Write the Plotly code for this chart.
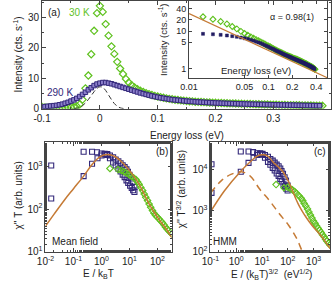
import plotly.graph_objects as go

# ---------------- data: panel (a) ----------------
energy = [-0.100, -0.095, -0.090, -0.085, -0.080, -0.075, -0.070, -0.065, -0.060, -0.055,
          -0.050, -0.045, -0.040, -0.035, -0.030, -0.025, -0.020, -0.015, -0.010, -0.005,
          0.000, 0.005, 0.010, 0.015, 0.020, 0.025, 0.030, 0.035, 0.040, 0.045,
          0.050, 0.055, 0.060, 0.065, 0.070, 0.075, 0.080, 0.085, 0.090, 0.095,
          0.100, 0.105, 0.110, 0.115, 0.120, 0.125, 0.130, 0.135, 0.140, 0.145,
          0.150, 0.155, 0.160, 0.165, 0.170, 0.175, 0.180, 0.185, 0.190, 0.195,
          0.200, 0.205, 0.210, 0.215, 0.220, 0.225, 0.230, 0.235, 0.240, 0.245,
          0.250, 0.255, 0.260, 0.265, 0.270, 0.275, 0.280, 0.285, 0.290, 0.295,
          0.300, 0.305, 0.310, 0.315, 0.320, 0.325, 0.330, 0.335, 0.340, 0.345,
          0.350, 0.355, 0.360, 0.365, 0.370, 0.375, 0.380, 0.385]

int_30K = [0.6, 0.4, 0.3, 0.3, 0.3, 0.3, 0.3, 0.3, 0.4, 0.4,
           0.5, 0.6, 0.8, 1.4, 3.0, 6.7, 10.9, 17.9, 25.6, 31.4,
           33.8, 31.8, 27.8, 24.0, 20.5, 18.0, 15.4, 13.2, 11.4, 9.8,
           8.6, 7.7, 7.0, 6.4, 5.9, 5.5, 5.1, 4.8, 4.5, 4.2,
           4.0, 3.8, 3.6, 3.4, 3.25, 3.1, 2.95, 2.85, 2.75, 2.65,
           2.55, 2.45, 2.4, 2.3, 2.25, 2.2, 2.15, 2.1, 2.05, 2.0,
           1.95, 1.9, 1.87, 1.84, 1.8, 1.77, 1.74, 1.7, 1.67, 1.64,
           1.6, 1.57, 1.54, 1.51, 1.48, 1.45, 1.42, 1.4, 1.37, 1.34,
           1.32, 1.3, 1.27, 1.25, 1.22, 1.2, 1.18, 1.16, 1.14, 1.12,
           1.1, 1.08, 1.06, 1.04, 1.02, 1.0, 0.98, 0.96]

int_290K = [0.5, 0.7, 0.8, 0.9, 1.0, 1.1, 1.3, 1.5, 1.8, 2.1,
            2.5, 2.9, 3.4, 4.0, 4.7, 5.4, 6.2, 6.9, 7.6, 8.1,
            8.4, 8.6, 8.6, 8.4, 8.2, 7.9, 7.6, 7.3, 7.0, 6.7,
            6.4, 6.1, 5.8, 5.5, 5.2, 4.95, 4.7, 4.45, 4.2, 4.0,
            3.8, 3.6, 3.45, 3.3, 3.15, 3.0, 2.9, 2.8, 2.7, 2.6,
            2.5, 2.42, 2.35, 2.28, 2.22, 2.16, 2.1, 2.05, 2.0, 1.95,
            1.9, 1.86, 1.82, 1.78, 1.74, 1.71, 1.68, 1.65, 1.62, 1.59,
            1.56, 1.53, 1.5, 1.47, 1.45, 1.42, 1.4, 1.37, 1.35, 1.33,
            1.3, 1.28, 1.26, 1.24, 1.22, 1.2, 1.18, 1.16, 1.14, 1.12,
            1.1, 1.08, 1.06, 1.04, 1.02, 1.0, 0.98]

res_E = [-0.045, -0.040, -0.035, -0.030, -0.025, -0.020, -0.015, -0.010, -0.005, 0.000,
         0.005, 0.010, 0.015, 0.020, 0.025, 0.030, 0.035, 0.040, 0.045]
res_I = [0.05, 0.15, 0.4, 1.0, 1.9, 3.0, 4.3, 5.6, 6.7, 7.2,
         7.0, 6.0, 4.5, 3.0, 1.7, 0.8, 0.3, 0.1, 0.03]

# inset power-law fit (alpha = 0.98)
fit_E = [0.01, 0.55]
fit_I = [29.0, 0.57]
inset_min_E = 0.015

# ---------------- data: panel (b) ----------------
b290_up_x = [0.016, 0.23, 0.46, 0.69, 1.0, 1.3, 1.6, 2.0, 2.6, 3.2, 4.0, 4.8, 5.7, 6.7, 7.8, 8.8, 10, 11.5, 13, 15]
b290_up_y = [1050, 2200, 2200, 2130, 2000, 1980, 1930, 1800, 1630, 1450, 1320, 1180, 1060, 960, 850, 740, 630, 520, 430, 330]
b290_lo_x = [0.016, 0.23, 0.46, 0.72, 1.0, 1.3, 1.6, 2.0, 2.6, 3.2, 4.0, 4.8, 5.7, 6.7, 7.8, 9, 10.5, 12, 13.5, 15]
b290_lo_y = [176, 590, 1150, 1550, 1800, 1900, 1850, 1550, 1230, 1050, 880, 760, 640, 560, 470, 410, 350, 310, 275, 250]
b30_x = [2.0, 3.9, 5.1, 6.3, 7.7, 9.5, 11.5, 14, 17, 19.5, 22, 25.5, 29.5, 33.5, 38, 44, 50, 57, 66, 75, 85, 98, 112, 128, 148, 170, 192, 220, 250, 290, 330]
b30_y = [890, 840, 800, 750, 700, 640, 590, 540, 490, 430, 380, 320, 270, 225, 188, 158, 131, 110, 92, 80, 71, 65, 59, 53, 48, 43, 38, 34, 31, 28, 26]
b_mf_x = [0.01, 0.02, 0.05, 0.1, 0.23, 0.46, 0.8, 1.2, 1.6, 2.2, 3.0, 4.5, 6.5, 10, 15, 22, 30, 40, 55, 75, 100, 140, 200, 330]
b_mf_y = [40, 75, 170, 300, 590, 1100, 1600, 1850, 1900, 1850, 1700, 1400, 1100, 800, 560, 380, 260, 175, 118, 85, 64, 47, 35, 21]

# ---------------- data: panel (c) ----------------
c290_up_x = [0.11, 1.5, 3.0, 4.5, 6.5, 8.5, 10.4, 13, 17, 21, 26, 31, 37, 44, 51, 57, 65, 75, 85, 98]
c290_up_y = [13400, 27500, 27500, 26600, 25000, 24700, 24100, 22500, 20400, 18100, 16500, 14700, 13200, 12000, 10600, 9250, 7900, 6500, 5400, 4100]
c290_lo_x = [0.11, 1.5, 3.0, 4.7, 6.5, 8.5, 10.4, 13, 17, 21, 26, 31, 37, 44, 51, 58, 68, 78, 88, 98]
c290_lo_y = [2700, 8800, 14500, 19400, 22500, 23700, 23100, 19400, 15400, 13100, 11000, 9500, 8000, 7000, 5900, 5100, 4400, 3900, 3400, 3100]
c30_x = [35, 71, 100, 125, 150, 185, 220, 270, 330, 380, 430, 500, 580, 660, 750, 860, 980, 1130, 1300, 1500, 1700, 1950, 2200, 2550, 2900, 3300, 3800, 4300]
c30_y = [4300, 3600, 3700, 3450, 3200, 2900, 2600, 2300, 2000, 1750, 1500, 1300, 1100, 930, 780, 660, 560, 490, 420, 370, 330, 295, 260, 230, 200, 180, 160, 145]
c_hmm_x = [0.1, 0.35, 1.5, 3.5, 6.0, 8.2, 12, 18, 26, 40, 62, 100, 145, 200, 260, 350, 460, 700, 1070, 1700, 2500, 3400, 4400]
c_hmm_y = [930, 3040, 9100, 15500, 20500, 22600, 22800, 20500, 15500, 12000, 9100, 5500, 3300, 2000, 1400, 1000, 760, 520, 370, 270, 200, 150, 120]
c_dash_x = [0.1, 0.26, 0.62, 1.56, 3.5, 8.2, 19.4, 46, 107, 220, 340, 420]
c_dash_y = [2640, 5300, 7600, 8800, 6900, 3300, 1760, 850, 440, 210, 112, 85]

# ---------------- styling ----------------
W, H = 335, 291
GREEN = '#5fc21f'
PURP_EDGE = '#33287a'
PURP_FILL = '#8d80cc'
NAVY = '#221d62'
ORANGE = '#c57a35'
AXC = '#444444'
FONT = 'Liberation Sans, Arial, sans-serif'


def px_x(p):
    return p / W


def px_y(p):
    return 1 - p / H


def axis(domain, rng, typ='linear', **kw):
    d = dict(domain=domain, range=rng, type=typ, showline=True, linecolor=AXC, linewidth=1,
             mirror='allticks', ticks='inside', ticklen=4, tickcolor=AXC, tickwidth=1,
             showgrid=False, zeroline=False, tickfont=dict(size=10, color='#222', family=FONT),
             fixedrange=True)
    d.update(kw)
    return d


fig = go.Figure()

# panel (a) main
fig.add_trace(go.Scatter(x=energy, y=int_30K, mode='markers', xaxis='x', yaxis='y',
                         marker=dict(symbol='diamond-open', size=5.5, color=GREEN, line=dict(width=1.2, color=GREEN)),
                         showlegend=False))
fig.add_trace(go.Scatter(x=energy[:len(int_290K)], y=int_290K, mode='markers', xaxis='x', yaxis='y',
                         marker=dict(symbol='square', size=4.5, color=PURP_FILL, line=dict(width=1, color=PURP_EDGE)),
                         showlegend=False))
fig.add_trace(go.Scatter(x=res_E, y=res_I, mode='lines', xaxis='x', yaxis='y', line_shape='spline',
                         line=dict(color='#333333', width=1, dash='5px,3px'), showlegend=False))

# inset
ins30_x = [e for e in energy if e >= inset_min_E]
ins30_y = [v for e, v in zip(energy, int_30K) if e >= inset_min_E]
ins290_x = [e for e in energy[:len(int_290K)] if e >= inset_min_E]
ins290_y = [v for e, v in zip(energy, int_290K) if e >= inset_min_E]
fig.add_trace(go.Scatter(x=ins30_x, y=ins30_y, mode='markers', xaxis='x2', yaxis='y2',
                         marker=dict(symbol='diamond-open', size=4.5, color=GREEN, line=dict(width=1.1, color=GREEN)),
                         showlegend=False))
fig.add_trace(go.Scatter(x=ins290_x, y=ins290_y, mode='markers', xaxis='x2', yaxis='y2',
                         marker=dict(symbol='square', size=3, color=NAVY, line=dict(width=0.5, color=NAVY)),
                         showlegend=False))
fig.add_trace(go.Scatter(x=fit_E, y=fit_I, mode='lines', xaxis='x2', yaxis='y2',
                         line=dict(color=ORANGE, width=1.3), showlegend=False))

# panel (b)
for xs, ys in ((b290_up_x, b290_up_y), (b290_lo_x, b290_lo_y)):
    fig.add_trace(go.Scatter(x=xs, y=ys, mode='markers', xaxis='x3', yaxis='y3',
                             marker=dict(symbol='square-open', size=5, color=PURP_EDGE, line=dict(width=1.1, color=PURP_EDGE)),
                             showlegend=False))
fig.add_trace(go.Scatter(x=b30_x, y=b30_y, mode='markers', xaxis='x3', yaxis='y3',
                         marker=dict(symbol='diamond-open', size=5, color=GREEN, line=dict(width=1.1, color=GREEN)),
                         showlegend=False))
fig.add_trace(go.Scatter(x=b_mf_x, y=b_mf_y, mode='lines', xaxis='x3', yaxis='y3', line_shape='spline',
                         line=dict(color=ORANGE, width=1.5), showlegend=False))

# panel (c)
for xs, ys in ((c290_up_x, c290_up_y), (c290_lo_x, c290_lo_y)):
    fig.add_trace(go.Scatter(x=xs, y=ys, mode='markers', xaxis='x4', yaxis='y4',
                             marker=dict(symbol='square-open', size=5, color=PURP_EDGE, line=dict(width=1.1, color=PURP_EDGE)),
                             showlegend=False))
fig.add_trace(go.Scatter(x=c30_x, y=c30_y, mode='markers', xaxis='x4', yaxis='y4',
                         marker=dict(symbol='diamond-open', size=5, color=GREEN, line=dict(width=1.1, color=GREEN)),
                         showlegend=False))
fig.add_trace(go.Scatter(x=c_hmm_x, y=c_hmm_y, mode='lines', xaxis='x4', yaxis='y4', line_shape='spline',
                         line=dict(color=ORANGE, width=1.5), showlegend=False))
fig.add_trace(go.Scatter(x=c_dash_x, y=c_dash_y, mode='lines', xaxis='x4', yaxis='y4', line_shape='spline',
                         line=dict(color=ORANGE, width=1.5, dash='7px,5px'), showlegend=False))

sup = lambda e: '10<sup>%s</sup>' % e

layout = dict(
    width=W, height=H, margin=dict(l=0, r=0, t=0, b=0),
    paper_bgcolor='white', plot_bgcolor='rgba(0,0,0,0)',
    font=dict(family=FONT, size=10, color='#222'),
    hovermode=False,
    xaxis=axis([px_x(34), px_x(331)], [-0.1, 0.4], anchor='y',
               tickvals=[-0.1, 0, 0.1, 0.2, 0.3, 0.4], ticktext=['-0.1', '0', '0.1', '0.2', '0.3', '0.4'],
               minor=dict(ticks='inside', ticklen=2, tickcolor=AXC, dtick=0.05)),
    yaxis=axis([px_y(111), px_y(1)], [0, 35.4], anchor='x',
               tickvals=[0, 10, 20, 30], ticktext=['0', '10', '20', '30'],
               minor=dict(ticks='inside', ticklen=2, tickcolor=AXC, dtick=5)),
    xaxis2=axis([px_x(185), px_x(327)], [-2, -0.26], 'log', anchor='y2',
                tickvals=[0.01, 0.05, 0.1, 0.2, 0.4], ticktext=['0.01', '0.05', '0.1', '0.2', '0.4'],
                tickfont=dict(size=9, color='#222', family=FONT), ticklen=3),
    yaxis2=axis([px_y(80), px_y(1)], [-0.26, 1.8], 'log', anchor='x2',
                tickvals=[1, 5, 10, 20, 40], ticktext=['1', '5', '10', '20', '40'],
                tickfont=dict(size=9, color='#222', family=FONT), ticklen=3),
    xaxis3=axis([px_x(37.5), px_x(167)], [-2, 2.5], 'log', anchor='y3',
                tickvals=[0.01, 0.1, 1, 10, 100], ticktext=[sup('-2'), sup('-1'), sup('0'), sup('1'), sup('2')],
                minor=dict(ticks='inside', ticklen=2, tickcolor=AXC)),
    yaxis3=axis([px_y(257), px_y(145)], [1, 3.57], 'log', anchor='x3',
                tickvals=[10, 100, 1000], ticktext=[sup('1'), sup('2'), sup('3')],
                minor=dict(ticks='inside', ticklen=2, tickcolor=AXC)),
    xaxis4=axis([px_x(207), px_x(330)], [-1, 3.64], 'log', anchor='y4',
                tickvals=[0.1, 1, 10, 100, 1000], ticktext=[sup('-1'), sup('0'), sup('1'), sup('2'), sup('3')],
                minor=dict(ticks='inside', ticklen=2, tickcolor=AXC)),
    yaxis4=axis([px_y(257), px_y(145)], [2, 4.67], 'log', anchor='x4',
                tickvals=[100, 1000, 10000], ticktext=[sup('2'), sup('3'), sup('4')],
                minor=dict(ticks='inside', ticklen=2, tickcolor=AXC)),
)


def ann(text, x, y, size=10, color='#222', angle=0, xanchor='center'):
    return dict(text=text, x=px_x(x), y=px_y(y), xref='paper', yref='paper', showarrow=False,
                font=dict(size=size, color=color, family=FONT), textangle=angle,
                xanchor=xanchor, yanchor='middle')


layout['annotations'] = [
    ann('Intensity (cts. s<sup>-1</sup>)', 9, 56, 10, angle=-90),
    ann('Energy loss (eV)', 183, 138, 10),
    ann('(a)', 46, 13, 10),
    ann('30 K', 72, 13, 10, GREEN),
    ann('290 K', 52, 94, 10, PURP_EDGE),
    ann('Intensity (cts. s<sup>-1</sup>)', 158, 41, 9.5, angle=-90),
    ann('Energy loss (eV)', 254, 72, 9.5),
    ann('α = 0.98(1)', 291, 17, 9),
    ann('χ\'\' T (arb. units)', 10, 200, 10, angle=-90),
    ann('E / k<sub>B</sub>T', 92, 280, 10),
    ann('(b)', 157, 155, 10),
    ann('Mean field', 68, 247, 10),
    ann('χ\'\' T<sup>3/2</sup> (arb. units)', 177, 193, 10, angle=-90),
    ann('E / (k<sub>B</sub>T)<sup>3/2</sup>  (eV<sup>1/2</sup>)', 270, 280, 10),
    ann('(c)', 320, 155, 10),
    ann('HMM', 222, 247, 10),
]

fig.update_layout(**layout)
fig.write_html('out.html', config={'displayModeBar': False, 'staticPlot': True},
               post_script="document.body.style.margin='0';document.body.style.padding='0';")
